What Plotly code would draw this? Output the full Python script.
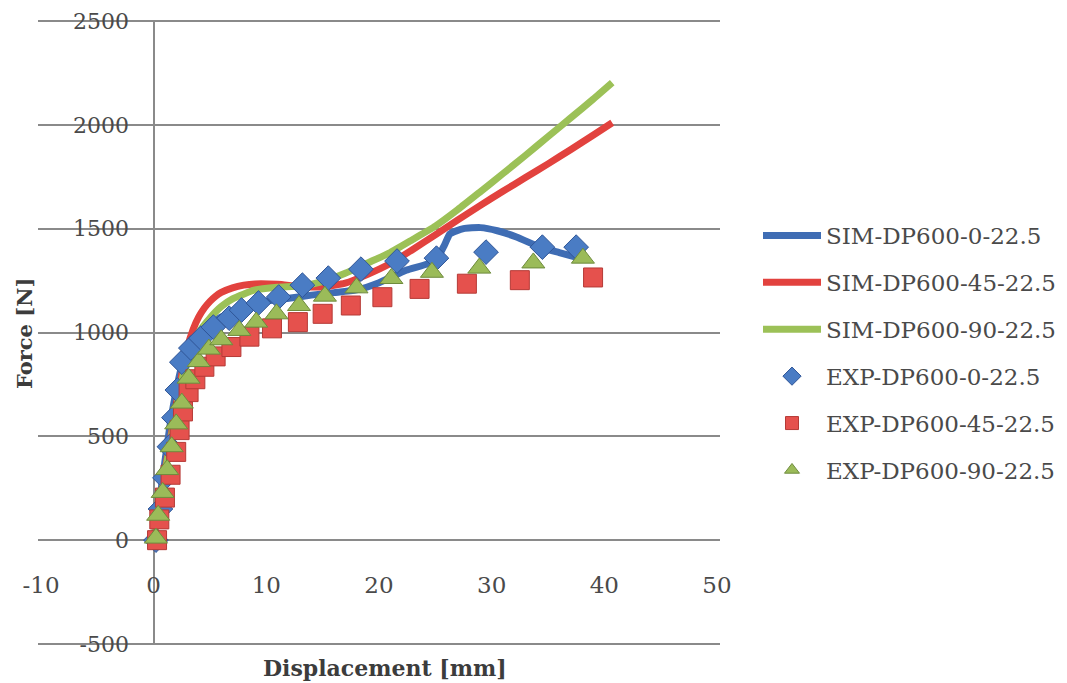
import plotly.graph_objects as go

# ---------------- data ----------------
sim0_x = [0, 0.5, 1, 1.5, 2, 2.5, 3, 4, 5, 6, 8, 10, 12, 14, 16, 18, 20, 22.4, 25, 25.8, 26.3, 27.5, 29, 30.5, 32.2, 34.3, 36, 37.8]
sim0_y = [0, 180, 380, 570, 720, 840, 920, 990, 1040, 1075, 1120, 1150, 1165, 1180, 1192, 1205, 1240, 1300, 1345, 1420, 1475, 1500, 1505, 1490, 1460, 1411, 1385, 1358]

sim45_x = [0, 1, 2, 2.5, 3, 3.5, 4, 4.5, 5, 5.5, 6, 7, 8, 9, 11, 13, 15, 17, 19, 21, 23, 25, 27, 29, 31, 33, 35, 37, 39, 40.7]
sim45_y = [0, 330, 650, 800, 930, 1015, 1075, 1118, 1150, 1175, 1193, 1215, 1228, 1234, 1232, 1222, 1220, 1238, 1280, 1332, 1400, 1470, 1542, 1612, 1680, 1746, 1812, 1880, 1950, 2010]

sim90_x = [0, 1, 2, 2.5, 3, 3.5, 4, 5, 6, 7, 9, 11, 13, 15, 17, 19, 21, 23, 25, 27, 29, 31, 33, 35, 37, 39, 40.7]
sim90_y = [0, 320, 630, 770, 875, 945, 1000, 1070, 1125, 1162, 1205, 1218, 1224, 1245, 1285, 1335, 1385, 1448, 1512, 1592, 1678, 1765, 1853, 1943, 2033, 2123, 2203]

exp0_x = [0.2, 0.6, 1.0, 1.4, 1.8, 2.1, 2.5, 3.3, 4.2, 5.3, 6.7, 7.8, 9.3, 11.1, 13.2, 15.5, 18.4, 21.6, 25.1, 29.5, 34.5, 37.5]
exp0_y = [0, 150, 300, 450, 590, 723, 857, 925, 973, 1026, 1069, 1108, 1142, 1171, 1228, 1262, 1305, 1344, 1358, 1387, 1411, 1411]

exp45_x = [0.3, 0.5, 1.0, 1.5, 2.0, 2.3, 2.6, 3.1, 3.7, 4.5, 5.5, 6.9, 8.5, 10.5, 12.8, 15.0, 17.5, 20.3, 23.6, 27.8, 32.5, 39.0]
exp45_y = [0, 100, 205, 315, 425, 530, 620, 713, 775, 835, 885, 930, 980, 1020, 1050, 1090, 1130, 1170, 1210, 1235, 1252, 1265]

exp90_x = [0.2, 0.4, 0.8, 1.2, 1.6, 2.0, 2.5, 3.1, 4.0, 4.9, 6.0, 7.6, 9.1, 10.9, 12.9, 15.2, 18.0, 21.1, 24.7, 28.9, 33.7, 38.1]
exp90_y = [10, 120, 230, 340, 450, 560, 660, 780, 860, 920, 965, 1010, 1050, 1090, 1130, 1175, 1215, 1260, 1290, 1310, 1335, 1358]

names = ["SIM-DP600-0-22.5", "SIM-DP600-45-22.5", "SIM-DP600-90-22.5",
         "EXP-DP600-0-22.5", "EXP-DP600-45-22.5", "EXP-DP600-90-22.5"]

x_ticks = [-10, 0, 10, 20, 30, 40, 50]
x_labels = ["-10", "0", "10", "20", "30", "40", "50"]
y_ticks = [-500, 0, 500, 1000, 1500, 2000, 2500]
y_labels = ["-500", "0", "500", "1000", "1500", "2000", "2500"]

# ---------------- figure ----------------
W, H = 1067, 683
OFF = 8  # page body margin
FONT = "DejaVu Serif"
TXT = "#4a4a4a"
GRID = "#8a8a8a"

# pixel calibration of the reference
XPX0, XPX1 = 41.0, 717.0      # x = -10 ... 50
YPX0, YPX1 = 644.0, 21.0      # y = -500 ... 2500
pad_x, pad_y = 0.3, 6.0       # small data padding so edge grid lines survive
sx = (XPX1 - XPX0) / 60.0
sy = (YPX0 - YPX1) / 3000.0


def px_x(p):
    return (p - OFF) / W


def px_y(p):
    return 1 - (p - OFF) / H


fig = go.Figure()

line_colors = ["#3F6DB4", "#E2423E", "#9CC157"]
line_data = [(sim0_x, sim0_y), (sim45_x, sim45_y), (sim90_x, sim90_y)]
for i, (xs, ys) in enumerate(line_data):
    fig.add_trace(go.Scatter(x=xs, y=ys, mode="lines", name=names[i], showlegend=False,
                             line=dict(color=line_colors[i], width=7, shape="spline", smoothing=0.5)))

marker_specs = [
    ("diamond", 19, "#4A7CC4", "#2F5597", 14),
    ("square", 19, "#E5514D", "#B53A36", 13),
    ("triangle-up", 20, "#9BBB59", "#6E8B3D", 13),
]
marker_data = [(exp0_x, exp0_y), (exp45_x, exp45_y), (exp90_x, exp90_y)]
for j, (xs, ys) in enumerate(marker_data):
    sym, sz, c, lc, _ = marker_specs[j]
    fig.add_trace(go.Scatter(x=xs, y=ys, mode="markers", name=names[3 + j], showlegend=False,
                             marker=dict(symbol=sym, size=sz, color=c, line=dict(color=lc, width=1))))

# legend entries
for i in range(3):
    fig.add_trace(go.Scatter(x=[None], y=[None], mode="lines", name=names[i],
                             line=dict(color=line_colors[i], width=7), legendgroup=f"g{i}"))
for j in range(3):
    sym, sz, c, lc, lsz = marker_specs[j]
    fig.add_trace(go.Scatter(x=[None], y=[None], mode="markers", name=names[3 + j],
                             marker=dict(symbol=sym, size=lsz, color=c, line=dict(color=lc, width=1)),
                             legendgroup=f"g{3 + j}"))

fig.update_layout(
    width=W, height=H,
    margin=dict(l=0, r=0, t=0, b=0),
    paper_bgcolor="white", plot_bgcolor="white",
    font=dict(family=FONT, color=TXT),
    xaxis=dict(domain=[px_x(XPX0 - pad_x * sx), px_x(XPX1 + pad_x * sx)],
               range=[-10 - pad_x, 50 + pad_x],
               tickvals=x_ticks, ticktext=x_labels,
               anchor="free", position=px_y(569),
               showgrid=False, zeroline=True, zerolinecolor=GRID, zerolinewidth=1.5,
               showline=False, ticks="", tickfont=dict(family=FONT, size=23, color=TXT),
               automargin=False),
    yaxis=dict(domain=[px_y(YPX0 + pad_y * sy), px_y(YPX1 - pad_y * sy)],
               range=[-500 - pad_y, 2500 + pad_y],
               tickvals=y_ticks, ticktext=y_labels,
               anchor="free", position=px_x(129),
               showgrid=True, gridcolor=GRID, gridwidth=1.5, zeroline=False,
               showline=False, ticks="", tickfont=dict(family=FONT, size=22, color=TXT),
               automargin=False),
    legend=dict(x=px_x(758), y=px_y(214), xanchor="left", yanchor="top",
                font=dict(family=FONT, size=23, color=TXT),
                itemwidth=58, traceorder="grouped", tracegroupgap=14,
                bgcolor="rgba(0,0,0,0)"),
    showlegend=True,
)

fig.add_annotation(text="<b>Displacement [mm]</b>", x=px_x(385), y=px_y(668),
                   xref="paper", yref="paper", showarrow=False,
                   xanchor="center", yanchor="middle",
                   font=dict(family=FONT, size=22, color="#3c3c3c"))
fig.add_annotation(text="<b>Force [N]</b>", x=px_x(25), y=px_y(334),
                   xref="paper", yref="paper", showarrow=False, textangle=-90,
                   xanchor="center", yanchor="middle",
                   font=dict(family=FONT, size=21, color="#3c3c3c"))

fig.write_html("out.html")
